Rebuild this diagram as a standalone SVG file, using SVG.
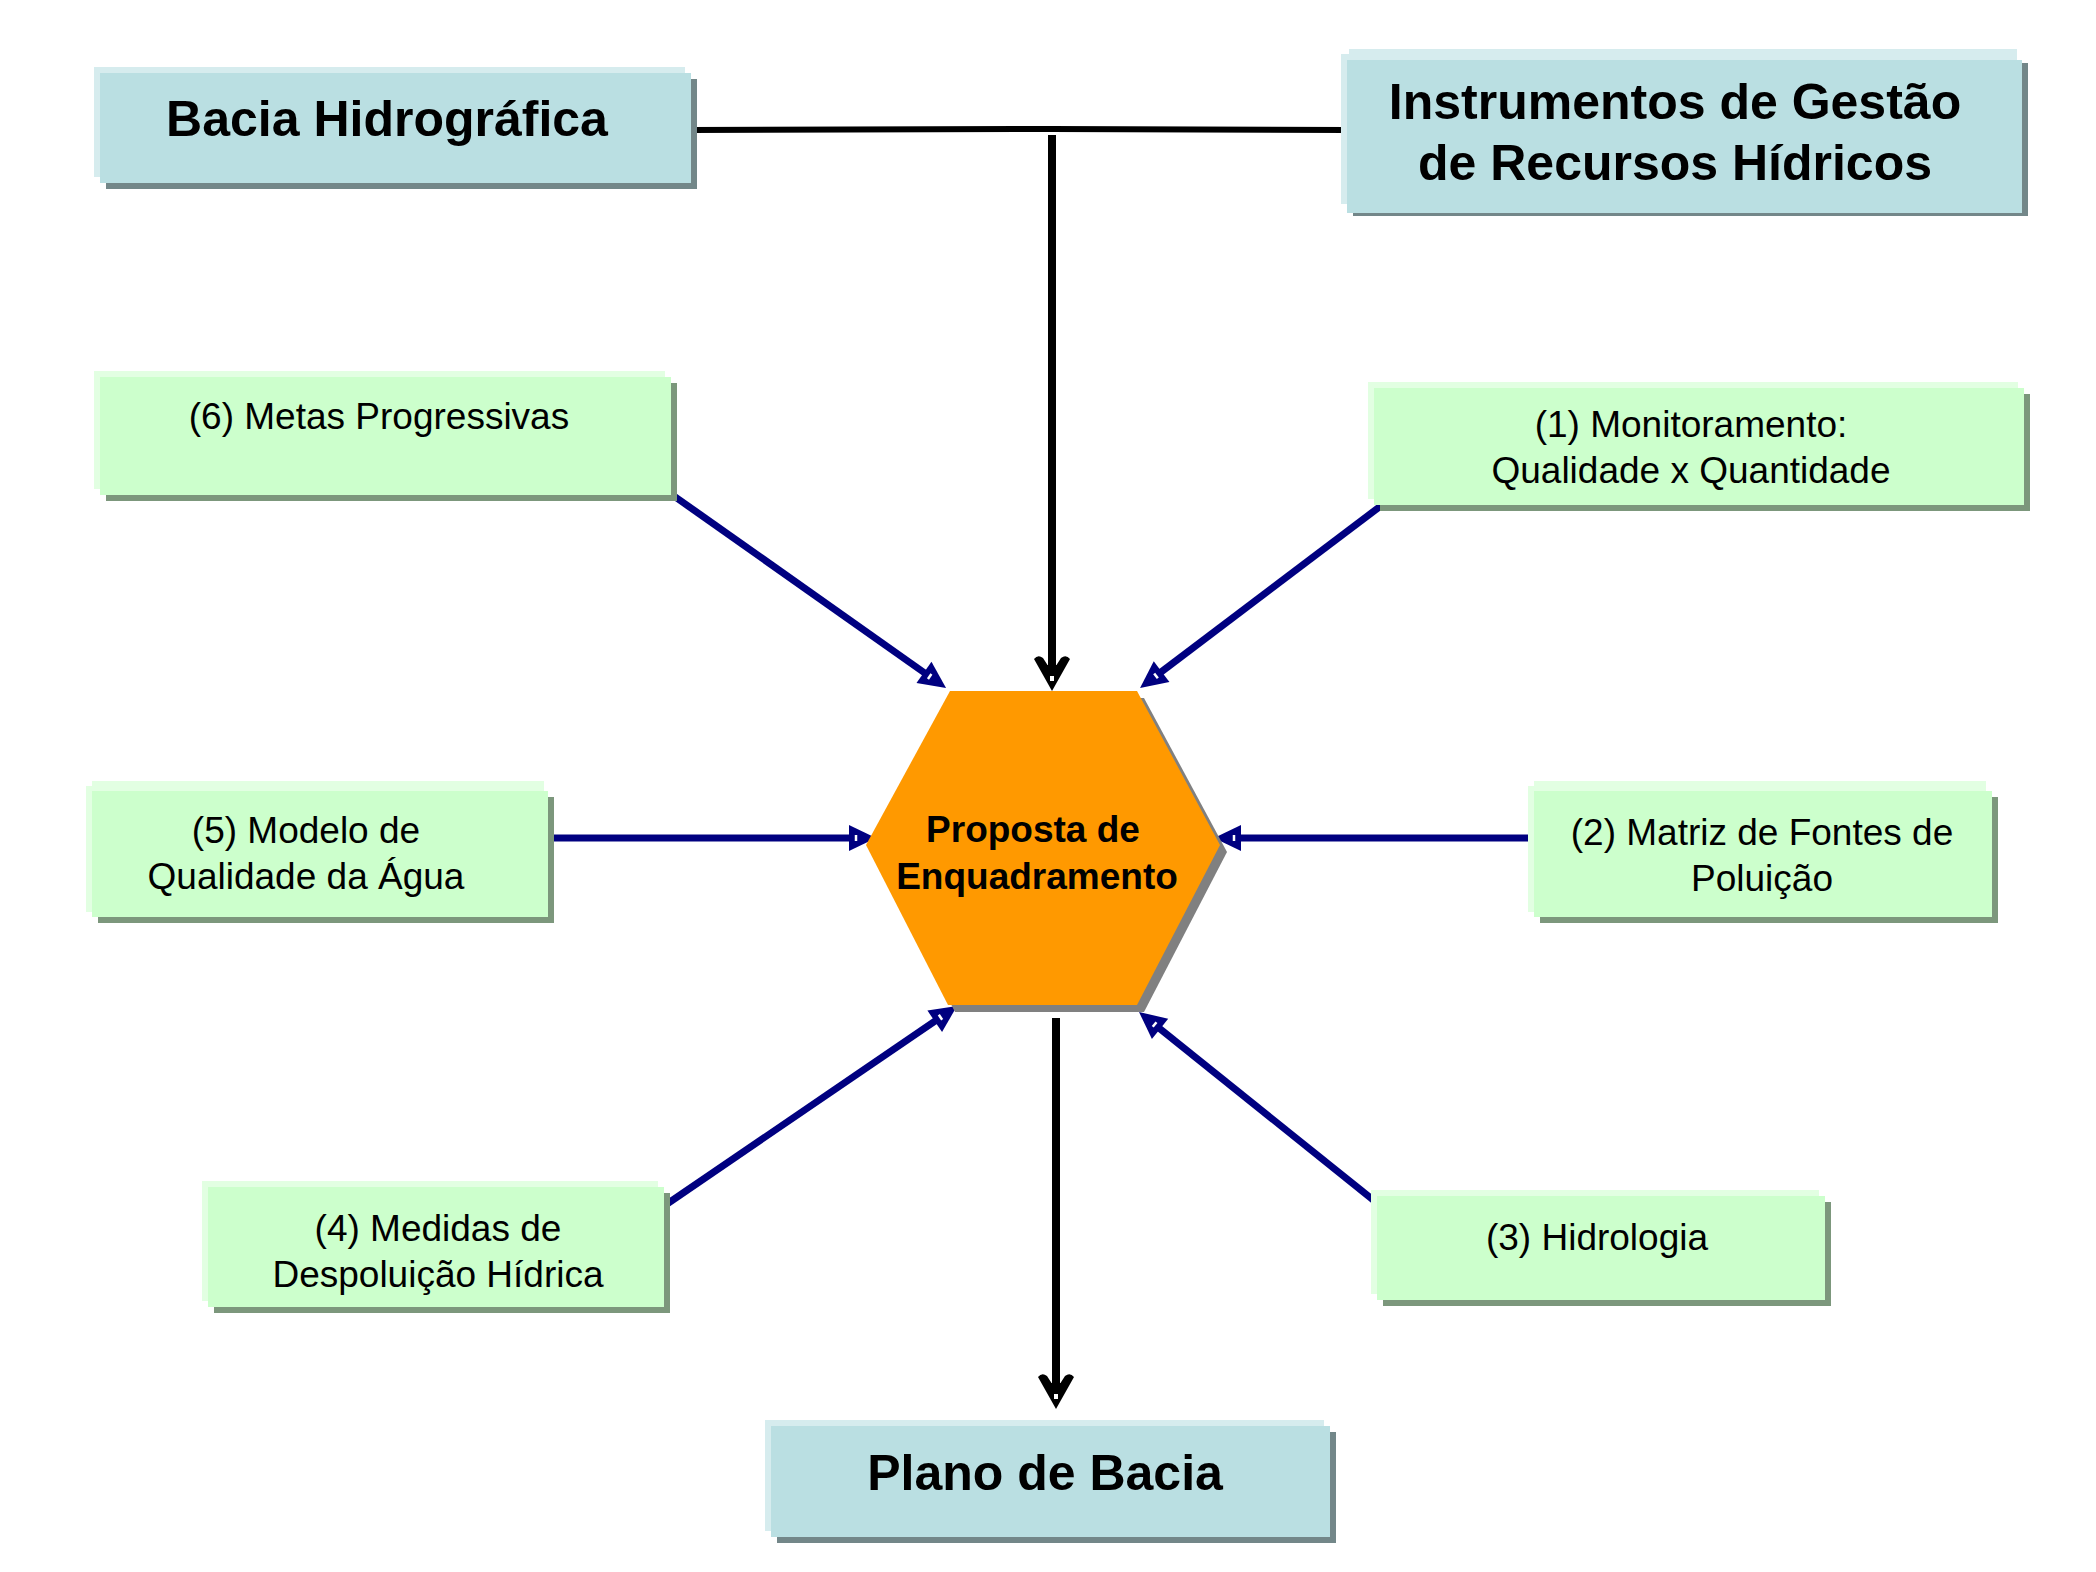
<svg xmlns="http://www.w3.org/2000/svg" width="2096" height="1572" viewBox="0 0 2096 1572">
<style>
.bg{fill:#ffffff}
.bBack{fill:#D6ECEE}
.bMain{fill:#BADFE2}
.bShad{fill:#738789}
.gBack{fill:#E2FFE2}
.gMain{fill:#CCFFCC}
.gShad{fill:#7C977C}
.tBig{font-family:"Liberation Sans",Arial,sans-serif;font-weight:bold;font-size:50px;fill:#000;text-anchor:middle}
.tSm{font-family:"Liberation Sans",Arial,sans-serif;font-size:37px;fill:#000;text-anchor:middle}
.tHex{font-family:"Liberation Sans",Arial,sans-serif;font-weight:bold;font-size:37px;fill:#000;text-anchor:middle}
.blk{stroke:#000;stroke-width:6;fill:none}
.blue{stroke:#000080;stroke-width:7;fill:none;marker-end:url(#ahBlue)}
.down{stroke:#000;stroke-width:8;fill:none;marker-end:url(#ahBlack)}
</style>
<defs>
<marker id="ahBlue" markerUnits="userSpaceOnUse" orient="auto" refX="0" refY="0" markerWidth="40" markerHeight="40" overflow="visible">
<path d="M20,0 L-7,-13 L-7,13 Z" fill="#000080"/>
<line x1="0" y1="-3" x2="0" y2="3" stroke="#ffffff" stroke-width="2.5"/>
</marker>
<marker id="ahBlack" markerUnits="userSpaceOnUse" orient="auto" refX="0" refY="0" markerWidth="40" markerHeight="40" overflow="visible">
<path d="M26,0 L-6,-18 Q-11,-14 -7,-9 L0,-4.5 L0,4.5 L-7,9 Q-11,14 -6,18 Z" fill="#000"/>
<rect x="11" y="-2" width="5" height="4" fill="#ffffff"/>
</marker>
</defs>
<rect class="bg" x="0" y="0" width="2096" height="1572"/>

<g id="connectors">
<polyline class="blk" points="691,130 1051,129 1347,130"/>
<line class="down" x1="1052" y1="135" x2="1052" y2="665"/>
<line class="down" x1="1056" y1="1018" x2="1056" y2="1383"/>
<line class="blue" x1="664" y1="489" x2="929.7" y2="676.5"/>
<line class="blue" x1="1382" y1="505" x2="1156" y2="675.9"/>
<line class="blue" x1="544" y1="838" x2="856" y2="838"/>
<line class="blue" x1="1544" y1="838" x2="1234" y2="838"/>
<line class="blue" x1="664" y1="1206" x2="940.5" y2="1017.3"/>
<line class="blue" x1="1382" y1="1207" x2="1154.6" y2="1024.5"/>
</g>

<g id="bacia">
<rect class="bShad" x="106" y="79" width="591" height="110"/>
<rect class="bBack" x="94" y="67" width="591" height="110"/>
<rect class="bMain" x="100" y="73" width="591" height="110"/>
<text class="tBig" x="387" y="136">Bacia Hidrográfica</text>
</g>

<g id="instrumentos">
<rect class="bShad" x="1353" y="63" width="675" height="153"/>
<rect class="bBack" x="1349" y="49" width="668" height="150"/>
<rect class="bBack" x="1341" y="54" width="675" height="150"/>
<rect class="bMain" x="1347" y="60" width="675" height="153"/>
<text class="tBig" x="1675" y="119">Instrumentos de Gestão</text>
<text class="tBig" x="1675" y="180">de Recursos Hídricos</text>
</g>

<g id="metas">
<rect class="gShad" x="106" y="383" width="571" height="118"/>
<rect class="gBack" x="94" y="371" width="571" height="118"/>
<rect class="gMain" x="100" y="377" width="571" height="118"/>
<text class="tSm" x="379" y="429">(6) Metas Progressivas</text>
</g>

<g id="monitoramento">
<rect class="gShad" x="1380" y="394" width="650" height="117"/>
<rect class="gBack" x="1368" y="382" width="650" height="117"/>
<rect class="gMain" x="1374" y="388" width="650" height="117"/>
<text class="tSm" x="1691" y="437">(1) Monitoramento:</text>
<text class="tSm" x="1691" y="483">Qualidade x Quantidade</text>
</g>

<g id="modelo">
<rect class="gShad" x="98" y="797" width="456" height="126"/>
<rect class="gBack" x="92" y="781" width="452" height="126"/>
<rect class="gBack" x="86" y="786" width="456" height="126"/>
<rect class="gMain" x="92" y="791" width="456" height="126"/>
<text class="tSm" x="306" y="843">(5) Modelo de</text>
<text class="tSm" x="306" y="889">Qualidade da Água</text>
</g>

<g id="matriz">
<rect class="gShad" x="1540" y="797" width="458" height="126"/>
<rect class="gBack" x="1534" y="781" width="452" height="126"/>
<rect class="gBack" x="1528" y="786" width="458" height="126"/>
<rect class="gMain" x="1534" y="791" width="458" height="126"/>
<text class="tSm" x="1762" y="845">(2) Matriz de Fontes de</text>
<text class="tSm" x="1762" y="891">Poluição</text>
</g>

<g id="medidas">
<rect class="gShad" x="214" y="1193" width="456" height="120"/>
<rect class="gBack" x="202" y="1181" width="456" height="120"/>
<rect class="gMain" x="208" y="1187" width="456" height="120"/>
<text class="tSm" x="438" y="1241">(4) Medidas de</text>
<text class="tSm" x="438" y="1287">Despoluição Hídrica</text>
</g>

<g id="hidrologia">
<rect class="gShad" x="1383" y="1202" width="448" height="104"/>
<rect class="gBack" x="1371" y="1190" width="448" height="104"/>
<rect class="gMain" x="1377" y="1196" width="448" height="104"/>
<text class="tSm" x="1597" y="1250">(3) Hidrologia</text>
</g>

<g id="proposta">
<polygon points="957,698 1144,698 1227,852 1144,1012 955,1012 873,852" fill="#808080"/>
<polygon points="950,691 1137,691 1220,845 1137,1005 948,1005 866,845" fill="#FF9900"/>
<text class="tHex" x="1033" y="842">Proposta de</text>
<text class="tHex" x="1037" y="889">Enquadramento</text>
</g>

<g id="plano">
<rect class="bShad" x="777" y="1432" width="559" height="111"/>
<rect class="bBack" x="765" y="1420" width="559" height="111"/>
<rect class="bMain" x="771" y="1426" width="559" height="111"/>
<text class="tBig" x="1045" y="1490">Plano de Bacia</text>
</g>
</svg>
